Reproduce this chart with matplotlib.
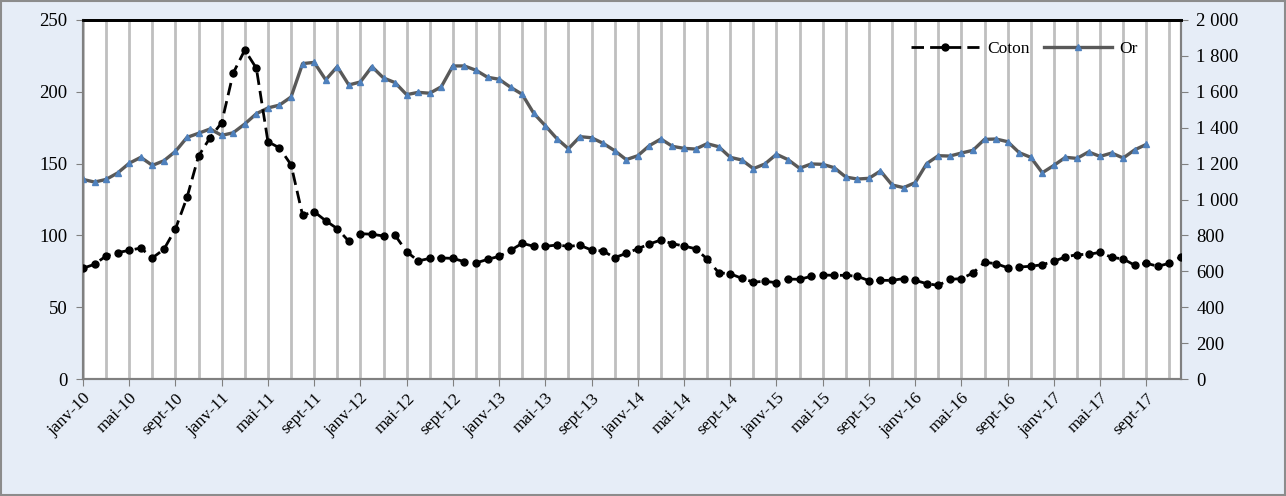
import numpy as np
import matplotlib.pyplot as plt
from matplotlib.patches import Rectangle

plt.rcParams['font.family'] = ['Liberation Serif', 'DejaVu Serif']

# monthly series, janv-10 .. déc-17
coton = [77.1, 79.9, 85.7, 88.0, 89.6, 91.2, 84.3, 90.3, 104.5, 126.5,
         155.3, 168.1, 178.5, 213.1, 229.1, 216.4, 165.3, 160.9, 149.2, 114.0,
         116.5, 110.2, 104.7, 95.9, 101.2, 100.8, 99.6, 100.1, 88.7, 82.2,
         84.0, 84.3, 84.0, 81.7, 80.8, 83.3, 85.4, 89.6, 94.5, 92.4,
         92.4, 93.3, 92.4, 93.1, 89.8, 89.1, 84.5, 87.5, 90.7, 94.0,
         96.8, 94.2, 92.6, 90.7, 83.6, 74.0, 73.3, 70.1, 67.5, 68.0,
         67.1, 69.6, 69.4, 71.5, 72.4, 72.2, 72.2, 71.5, 68.5, 68.7,
         68.7, 69.9, 68.7, 66.4, 65.2, 69.4, 69.9, 73.8, 81.3, 80.3,
         77.5, 78.0, 78.5, 79.6, 82.0, 85.0, 86.6, 86.8, 88.2, 84.7,
         83.6, 79.2, 80.6, 78.5, 80.6, 85.0]

# janv-10 .. sept-17
gold = [1112, 1097, 1112, 1148, 1202, 1235, 1190, 1216, 1268, 1346,
        1369, 1393, 1357, 1372, 1421, 1478, 1510, 1526, 1571, 1757,
        1764, 1667, 1740, 1638, 1655, 1740, 1677, 1651, 1584, 1597,
        1592, 1628, 1744, 1744, 1720, 1681, 1670, 1625, 1586, 1480,
        1411, 1339, 1283, 1350, 1344, 1313, 1272, 1222, 1244, 1300,
        1337, 1296, 1285, 1281, 1311, 1294, 1235, 1220, 1172, 1198,
        1252, 1222, 1174, 1198, 1196, 1177, 1125, 1114, 1118, 1159,
        1081, 1066, 1094, 1200, 1244, 1242, 1259, 1274, 1335, 1337,
        1322, 1261, 1235, 1149, 1190, 1235, 1229, 1265, 1240, 1259,
        1231, 1277, 1307]

tick_labels = ['janv-10', 'mai-10', 'sept-10', 'janv-11', 'mai-11', 'sept-11',
               'janv-12', 'mai-12', 'sept-12', 'janv-13', 'mai-13', 'sept-13',
               'janv-14', 'mai-14', 'sept-14', 'janv-15', 'mai-15', 'sept-15',
               'janv-16', 'mai-16', 'sept-16', 'janv-17', 'mai-17', 'sept-17']

fig = plt.figure(figsize=(12.86, 4.96), dpi=100)
fig.patch.set_facecolor('#E6EDF7')
fig.patches.append(Rectangle((0.001, 0.002), 0.998, 0.996, transform=fig.transFigure,
                             fill=False, edgecolor='#8C8C8C', lw=1.5))

ax2 = fig.add_axes([83 / 1286, 1 - 379 / 496, (1181 - 83) / 1286, (379 - 20) / 496])
ax2.set_facecolor('white')
ax = ax2.twinx()   # coton on top, left scale
ax.yaxis.tick_left()
ax2.yaxis.tick_right()

x_c = np.arange(len(coton))
x_g = np.arange(len(gold))

l2, = ax2.plot(x_g, gold, color='#595959', lw=2.4, marker='^', ms=4.5,
               mfc='#4F81BD', mec='#4F81BD', zorder=3, label='Or')
l1, = ax.plot(x_c, coton, color='black', ls=(0, (4.5, 2.2)), lw=2, marker='o',
              ms=5, zorder=4, label='Coton')

ax2.set_xlim(0, len(coton) - 1)
ax.set_ylim(0, 250)
ax2.set_ylim(0, 2000)
ax.set_yticks(np.arange(0, 251, 50))
ax2.set_yticks(np.arange(0, 2001, 200))
ax2.set_yticklabels([f'{v:,}'.replace(',', ' ') for v in range(0, 2001, 200)])

ax2.set_xticks(np.arange(0, len(coton), 4))
ax2.set_xticks(np.arange(0, len(coton), 2), minor=True)
ax2.set_xticklabels(tick_labels, rotation=45, ha='right', rotation_mode='anchor')
ax2.tick_params(axis='x', which='major', length=5, color='#808080', labelsize=12.5, pad=3)
ax2.tick_params(axis='x', which='minor', length=0)
ax.tick_params(axis='y', length=5, color='#808080', labelsize=13.5, pad=6)
ax2.tick_params(axis='y', length=5, color='#808080', labelsize=13.5, pad=6)

ax2.grid(axis='x', which='both', color='#BFBFBF', lw=2)
# horizontal grid follows the left (coton) scale: 50 units = 400 on the right
ax2.set_yticks(np.arange(0, 2001, 400), minor=True)
ax2.tick_params(axis='y', which='minor', length=0)
ax2.grid(axis='y', which='minor', color='#8C8C8C', lw=1.5)
ax2.set_axisbelow(True)

for a in (ax, ax2):
    a.spines['top'].set_color('black')
    a.spines['top'].set_linewidth(2)
    for s in ('left', 'right', 'bottom'):
        a.spines[s].set_color('#808080')
        a.spines[s].set_linewidth(1.5)

ax.legend(handles=[l1, l2], loc='upper right', bbox_to_anchor=(0.975, 0.985),
          ncol=2, frameon=False, fontsize=12.5, handlelength=3.9, columnspacing=0.85,
          handletextpad=0.45)

fig.savefig('out.png', dpi=100, facecolor=fig.get_facecolor())
